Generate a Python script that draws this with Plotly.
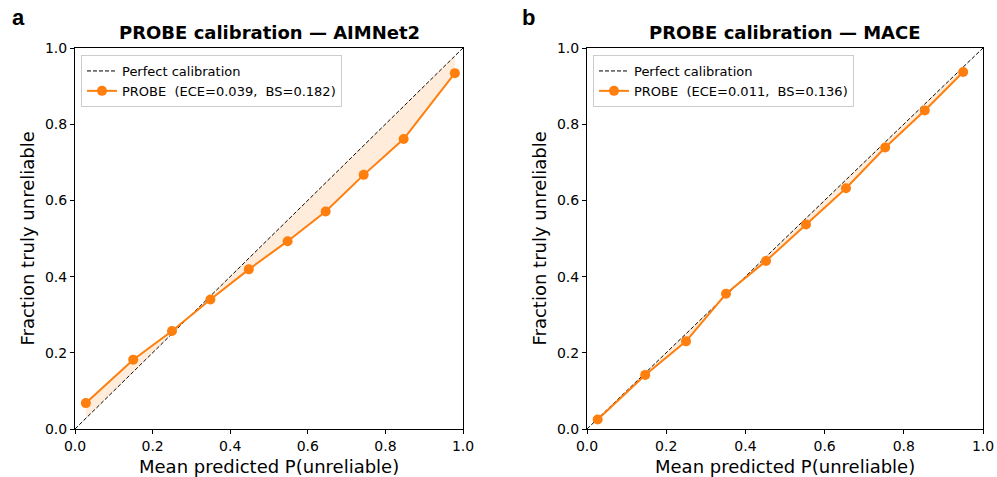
import plotly.graph_objects as go

# ---- data ----
aim_x = [0.028, 0.150, 0.250, 0.349, 0.448, 0.548, 0.646, 0.744, 0.847, 0.979]
aim_y = [0.068, 0.182, 0.257, 0.340, 0.419, 0.493, 0.571, 0.667, 0.761, 0.934]
mace_x = [0.027, 0.147, 0.250, 0.351, 0.452, 0.553, 0.654, 0.753, 0.853, 0.950]
mace_y = [0.025, 0.142, 0.230, 0.355, 0.441, 0.537, 0.632, 0.739, 0.836, 0.937]
titles = ["PROBE calibration — AIMNet2", "PROBE calibration — MACE"]
labels = ["PROBE  (ECE=0.039,  BS=0.182)", "PROBE  (ECE=0.011,  BS=0.136)"]
panel_tags = ["a", "b"]
tick_vals = [0.0, 0.2, 0.4, 0.6, 0.8, 1.0]

ORANGE = "#ff7f0e"
FONT = "DejaVu Sans"
W, H = 997, 477

fig = go.Figure()

panels = [(aim_x, aim_y), (mace_x, mace_y)]
xdomains = [[75 / W, 463 / W], [587 / W, 983 / W]]
ydomain = [1 - 429 / H, 1 - 48 / H]
legends = ["legend", "legend2"]

for i, (px, py) in enumerate(panels):
    xa = "x" if i == 0 else "x2"
    ya = "y" if i == 0 else "y2"
    lg = legends[i]
    # perfect calibration diagonal
    fig.add_trace(go.Scatter(x=[0, 1], y=[0, 1], mode="lines",
                             line=dict(color="black", width=1, dash="4px,2px"),
                             name="Perfect calibration", xaxis=xa, yaxis=ya,
                             legend=lg, showlegend=True))
    # fill between diagonal and curve
    fig.add_trace(go.Scatter(x=px, y=px, mode="lines", line=dict(width=0),
                             hoverinfo="skip", showlegend=False, xaxis=xa, yaxis=ya))
    fig.add_trace(go.Scatter(x=px, y=py, mode="lines", line=dict(width=0),
                             fill="tonexty", fillcolor="rgba(255,127,14,0.15)",
                             hoverinfo="skip", showlegend=False, xaxis=xa, yaxis=ya))
    # PROBE curve
    fig.add_trace(go.Scatter(x=px, y=py, mode="lines+markers",
                             line=dict(color=ORANGE, width=2),
                             marker=dict(color=ORANGE, size=10),
                             name=labels[i], xaxis=xa, yaxis=ya, legend=lg))

axis_common = dict(range=[0, 1], tickvals=tick_vals, tickformat=".1f",
                   showgrid=False, zeroline=False, showline=True, mirror=True,
                   linecolor="black", linewidth=1, ticks="outside", ticklen=4,
                   tickcolor="black", automargin=False,
                   tickfont=dict(family=FONT, size=14, color="black"))

legend_common = dict(xanchor="left", yanchor="top", traceorder="normal",
                     bgcolor="rgba(255,255,255,0.8)", bordercolor="#cccccc", borderwidth=1,
                     font=dict(family=FONT, size=13, color="black"), tracegroupgap=0)

fig.update_layout(
    template="none",
    width=W, height=H, margin=dict(l=0, r=0, t=0, b=0, autoexpand=False),
    paper_bgcolor="white", plot_bgcolor="white",
    font=dict(family=FONT, color="black"),
    xaxis=dict(domain=xdomains[0], anchor="y", **axis_common),
    yaxis=dict(domain=ydomain, anchor="x", **axis_common),
    xaxis2=dict(domain=xdomains[1], anchor="y2", **axis_common),
    yaxis2=dict(domain=ydomain, anchor="x2", **axis_common),
    legend=dict(x=81 / W, y=1 - 55 / H, **legend_common),
    legend2=dict(x=593 / W, y=1 - 55 / H, **legend_common),
    showlegend=True,
)

annotations = []
for i in range(2):
    cx = (xdomains[i][0] + xdomains[i][1]) / 2
    annotations.append(dict(text="<b>%s</b>" % titles[i], x=cx, y=1 - 33 / H,
                            xref="paper", yref="paper", showarrow=False,
                            font=dict(family=FONT, size=18, color="black"),
                            xanchor="center", yanchor="middle"))
    annotations.append(dict(text="Mean predicted P(unreliable)", x=cx, y=1 - 466 / H,
                            xref="paper", yref="paper", showarrow=False,
                            font=dict(family=FONT, size=18, color="black"),
                            xanchor="center", yanchor="middle"))
    yx = 27 / W if i == 0 else 539 / W
    annotations.append(dict(text="Fraction truly unreliable", x=yx, y=(ydomain[0] + ydomain[1]) / 2,
                            xref="paper", yref="paper", showarrow=False, textangle=-90,
                            font=dict(family=FONT, size=18, color="black"),
                            xanchor="center", yanchor="middle"))
    tx = 18 / W if i == 0 else 528 / W
    annotations.append(dict(text="<b>%s</b>" % panel_tags[i], x=tx, y=1 - 18 / H,
                            xref="paper", yref="paper", showarrow=False,
                            font=dict(family="Liberation Sans", size=22, color="black"),
                            xanchor="center", yanchor="middle"))
fig.update_layout(annotations=annotations)

fig.write_html("out.html")
